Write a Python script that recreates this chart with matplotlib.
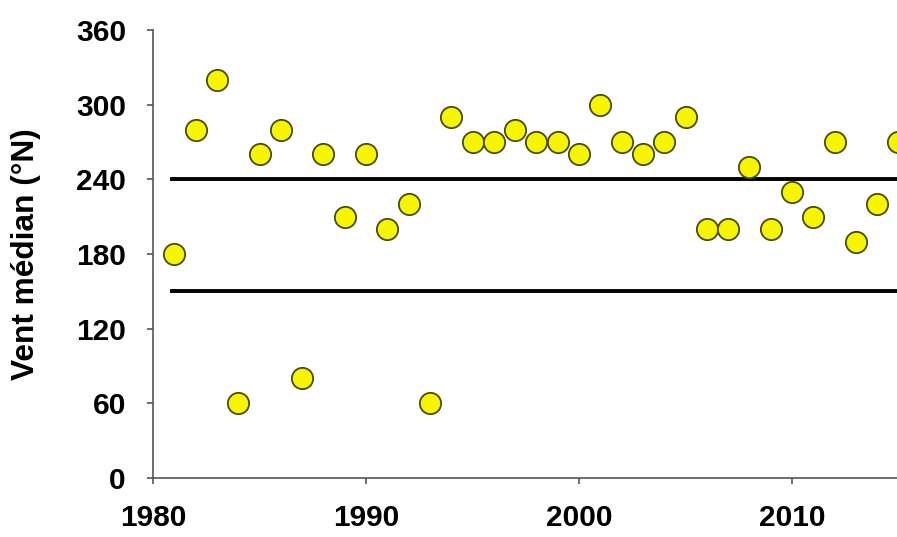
import matplotlib.pyplot as plt

# Median wind direction per year (°N)
years = [1981, 1982, 1983, 1984, 1985, 1986, 1987, 1988, 1989, 1990,
         1991, 1992, 1993, 1994, 1995, 1996, 1997, 1998, 1999, 2000,
         2001, 2002, 2003, 2004, 2005, 2006, 2007, 2008, 2009, 2010,
         2011, 2012, 2013, 2014, 2015]
wind = [180, 280, 320, 60, 260, 280, 80, 260, 210, 260,
        200, 220, 60, 290, 270, 270, 280, 270, 270, 260,
        300, 270, 260, 270, 290, 200, 200, 250, 200, 230,
        210, 270, 190, 220, 270]

# sector limits
upper_limit = 240
lower_limit = 150

plt.rcParams['font.family'] = ['Liberation Sans', 'DejaVu Sans']

fig = plt.figure(figsize=(8.97, 5.37), dpi=100)
ax = fig.add_axes([0.1706, 0.1099, 0.8294, 0.8343])

ax.plot([1980.9, 2016], [upper_limit, upper_limit], color='black', linewidth=2.8, zorder=2)
ax.plot([1980.9, 2016], [lower_limit, lower_limit], color='black', linewidth=2.8, zorder=2)

ax.scatter(years, wind, s=235, facecolor='#f5f500', edgecolor='#4a4a10',
           linewidth=1.3, zorder=3)

ax.set_xlim(1980, 2014.93)
ax.set_ylim(0, 360)
ax.set_xticks([1980, 1990, 2000, 2010])
ax.set_yticks(range(0, 361, 60))

for side in ['top', 'right']:
    ax.spines[side].set_visible(False)
for side in ['left', 'bottom']:
    ax.spines[side].set_color('#555555')
    ax.spines[side].set_linewidth(1.2)

ax.tick_params(direction='out', length=4.5, width=1.2, color='#555555',
               labelsize=21.5)
ax.tick_params(axis='y', pad=15)
ax.tick_params(axis='x', pad=14)
for lbl in ax.get_xticklabels() + ax.get_yticklabels():
    lbl.set_fontweight('bold')

fig.text(0.029, 0.527, 'Vent médian (°N)', fontsize=22.8, fontweight='bold',
         rotation=90, ha='center', va='center')

fig.savefig('out.png', dpi=100, facecolor='white')
